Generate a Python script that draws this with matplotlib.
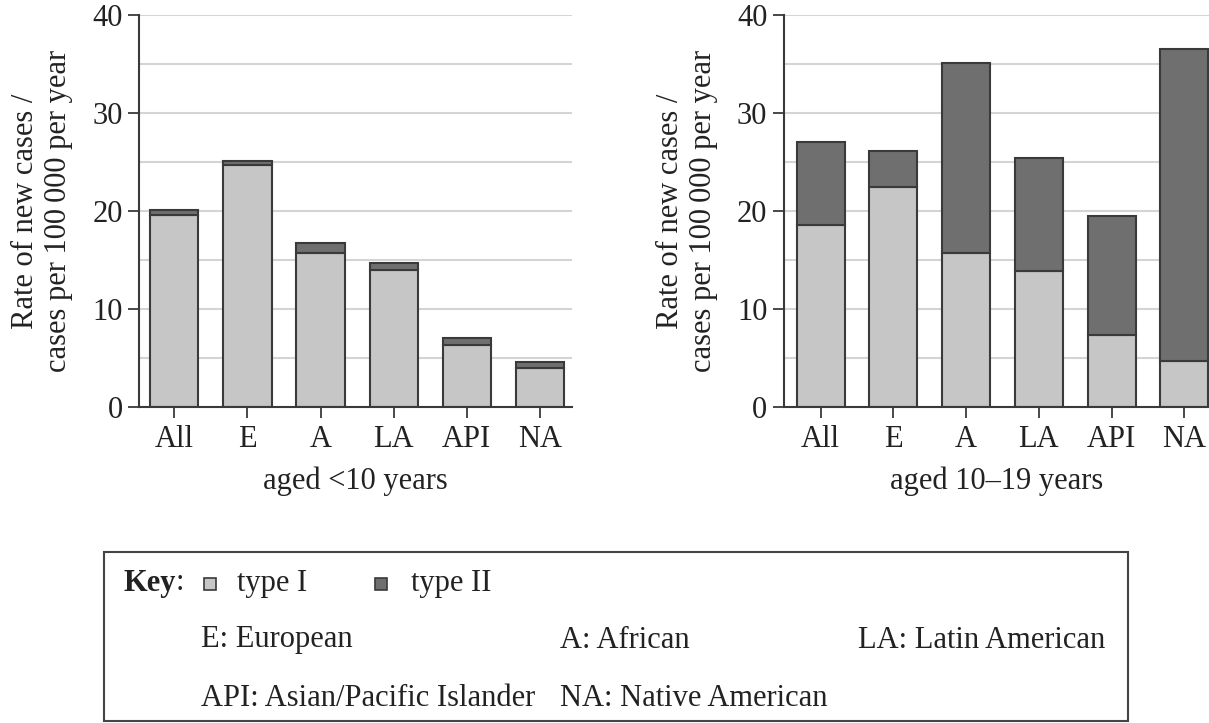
import matplotlib
matplotlib.use("Agg")
import matplotlib.pyplot as plt
import matplotlib.patches as mpatches
import numpy as np

# --- Data (rate of new cases per 100 000 per year) ---
groups = ["All", "E", "A", "LA", "API", "NA"]

under10_type1 = [19.6, 24.7, 15.7, 14.0, 6.4, 4.0]
under10_type2 = [0.5, 0.4, 1.1, 0.7, 0.7, 0.6]

age10_19_type1 = [18.6, 22.5, 15.7, 13.9, 7.4, 4.7]
age10_19_type2 = [8.5, 3.7, 19.4, 11.5, 12.1, 31.9]

y_ticks = [0, 10, 20, 30, 40]
grid_levels = [5, 10, 15, 20, 25, 30, 35, 40]

# --- Style ---
plt.rcParams["font.family"] = ["Liberation Serif", "DejaVu Serif"]
FS = 22
LIGHT = "#c6c6c6"
DARK = "#6f6f6f"
EDGE = "#3a3a3a"
GRID = "#d4d4d4"
TXT = "#222222"

W, H = 1209, 723
fig = plt.figure(figsize=(W / 100, H / 100), dpi=100)


def px(x0, y0, x1, y1):
    # pixel box -> figure fraction [left, bottom, width, height]
    return [x0 / W, 1 - y1 / H, (x1 - x0) / W, (y1 - y0) / H]


def draw_panel(ax, t1, t2, xlabel, xlim, label_x):
    x = np.arange(len(groups))
    ax.bar(x, t1, 0.66, color=LIGHT, edgecolor=EDGE, linewidth=1.5, zorder=3)
    ax.bar(x, t2, 0.66, bottom=t1, color=DARK, edgecolor=EDGE,
           linewidth=1.5, zorder=3)
    for g in grid_levels:
        ax.axhline(g, color=GRID, lw=1.5, zorder=1)
    ax.set_xlim(*xlim)
    ax.set_ylim(0, 40)
    ax.set_yticks(y_ticks)
    ax.set_xticks(x)
    ax.set_xticklabels(groups)
    for s in ["top", "right"]:
        ax.spines[s].set_visible(False)
    for s in ["left", "bottom"]:
        ax.spines[s].set_color(EDGE)
        ax.spines[s].set_linewidth(1.5)
        ax.spines[s].set_zorder(4)
    ax.tick_params(axis="both", labelsize=FS, color=EDGE, width=1.3,
                   length=8, labelcolor=TXT)
    ax.tick_params(axis="x", pad=5)
    ax.tick_params(axis="y", pad=4)
    ax.set_xlabel(xlabel, fontsize=FS, color=TXT, labelpad=9)
    ax.set_ylabel("Rate of new cases /\ncases per 100\u2009000 per year",
                  fontsize=FS, color=TXT, linespacing=1.2)
    ax.yaxis.set_label_coords(label_x, 0.5)
    ax.patch.set_alpha(0)


ax1 = fig.add_axes(px(139.3, 15.3, 571.7, 407.3))
draw_panel(ax1, under10_type1, under10_type2, "aged <10 years",
           (-0.478, 5.433), -66 / 432.4)

ax2 = fig.add_axes(px(784, 15.3, 1209, 407.3))
draw_panel(ax2, age10_19_type1, age10_19_type2, "aged 10\u201319 years",
           (-0.505, 5.34), -66 / 425)

# --- Key box ---
box = mpatches.Rectangle((104 / W, 1 - 721 / H), (1128 - 104) / W,
                         (721 - 552) / H, transform=fig.transFigure,
                         fill=False, edgecolor="#444444", lw=1.5)
fig.patches.append(box)


def ftext(x, y, s, **kw):
    return fig.text(x / W, 1 - y / H, s, fontsize=FS, color=TXT,
                    va="center", ha="left", **kw)


def swatch(x, y, color):
    fig.patches.append(mpatches.Rectangle(
        (x / W, 1 - (y + 12) / H), 12 / W, 12 / H,
        transform=fig.transFigure, facecolor=color, edgecolor=EDGE, lw=1.2))


key = ftext(123, 583, "Key", fontweight="bold")
fig.canvas.draw()
key_end = key.get_window_extent().x1
fig.text(key_end / W, 1 - 583 / H, ":", fontsize=FS, color=TXT,
         va="center", ha="left")
swatch(204, 578, LIGHT)
ftext(237, 583, "type I")
swatch(375, 578, DARK)
ftext(411, 583, "type II")

ftext(201, 640, "E: European")
ftext(560, 640, "A: African")
ftext(858, 640, "LA: Latin American")
ftext(201, 698, "API: Asian/Pacific Islander")
ftext(560, 698, "NA: Native American")

fig.savefig("out.png", dpi=100, facecolor="white")
